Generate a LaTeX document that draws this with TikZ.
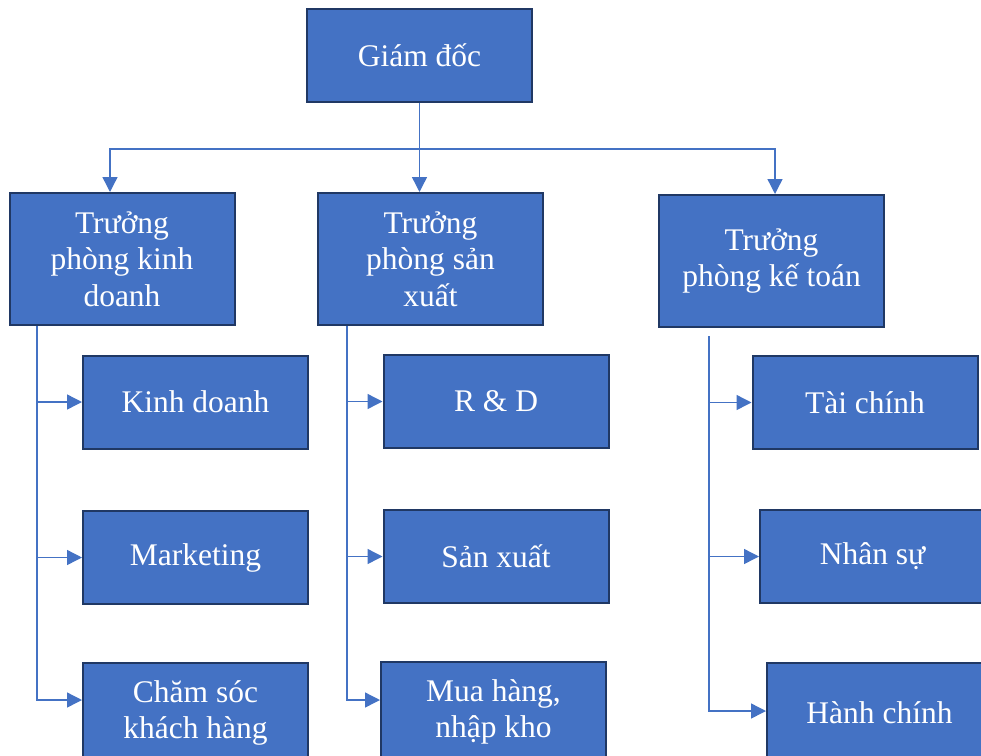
\documentclass[tikz,border=0pt]{standalone}
\usepackage{fontspec}
\setmainfont{Liberation Serif}
\usetikzlibrary{positioning, arrows.meta}
\definecolor{boxblue}{HTML}{4472C4}
\definecolor{boxline}{HTML}{203864}
\definecolor{lineblue}{HTML}{4472C4}

\begin{document}
\begin{tikzpicture}[x=1pt, y=-1pt,
  box/.style={rectangle, draw=boxline, line width=2pt, fill=boxblue, text=white, align=center, minimum width=225pt, minimum height=93pt, inner sep=2pt, font=\fontsize{31.5}{36.5}\selectfont},
  tall/.style={box, minimum height=132pt},
  low/.style={box, minimum height=100pt},
  arr/.style={-{Triangle[length=15pt,width=15pt]}, draw=lineblue, line width=1.4pt}
]
\useasboundingbox (0,0) rectangle (981,755);
% director and department heads
\node[box] (gd) at (419.5,55.5) {Giám đốc};
\node[tall] (kd) at (122,259) {Trưởng\\phòng kinh\\doanh};
\node[tall] (sx) at (430.5,259) {Trưởng\\phòng sản\\xuất};
\node[tall] (kt) at (771.5,261) {Trưởng\\phòng kế toán};
% sections
\node[box] (kdoanh) at (195.5,402) {Kinh doanh};
\node[box] (mkt) at (195.5,557.5) {Marketing};
\node[low] (cskh) at (195.5,713) {Chăm sóc\\khách hàng};
\node[box] (rd) at (496,401.5) {R \& D};
\node[box] (sxuat) at (496,556.5) {Sản xuất};
\node[low] (mhnk) at (493.5,712) {Mua hàng,\\nhập kho};
\node[box] (tc) at (865,402.5) {Tài chính};
\node[box] (ns) at (872.5,556.5) {Nhân sự};
\node[low] (hc) at (879.5,713) {Hành chính};
\coordinate (bus) at (0,149);
\draw[arr] (gd.south) -- (gd.south |- sx.north);
\draw[arr] (gd.south |- bus) -| ([xshift=-12pt]kd.north);
\draw[arr] (gd.south |- bus) -| ([xshift=3.5pt]kt.north);
\draw[arr] ([xshift=-85pt]kd.south) |- (kdoanh.west);
\draw[arr] ([xshift=-85pt]kd.south) |- (mkt.west);
\draw[arr] ([xshift=-85pt]kd.south) |- ([yshift=13pt]cskh.west);
\draw[arr] ([xshift=-83.5pt]sx.south) |- (rd.west);
\draw[arr] ([xshift=-83.5pt]sx.south) |- (sxuat.west);
\draw[arr] ([xshift=-83.5pt]sx.south) |- ([yshift=12pt]mhnk.west);
\draw[arr] ([xshift=-62.5pt,yshift=-8pt]kt.south) |- (tc.west);
\draw[arr] ([xshift=-62.5pt,yshift=-8pt]kt.south) |- (ns.west);
\draw[arr] ([xshift=-62.5pt,yshift=-8pt]kt.south) |- ([yshift=2pt]hc.west);
\end{tikzpicture}
\end{document}
